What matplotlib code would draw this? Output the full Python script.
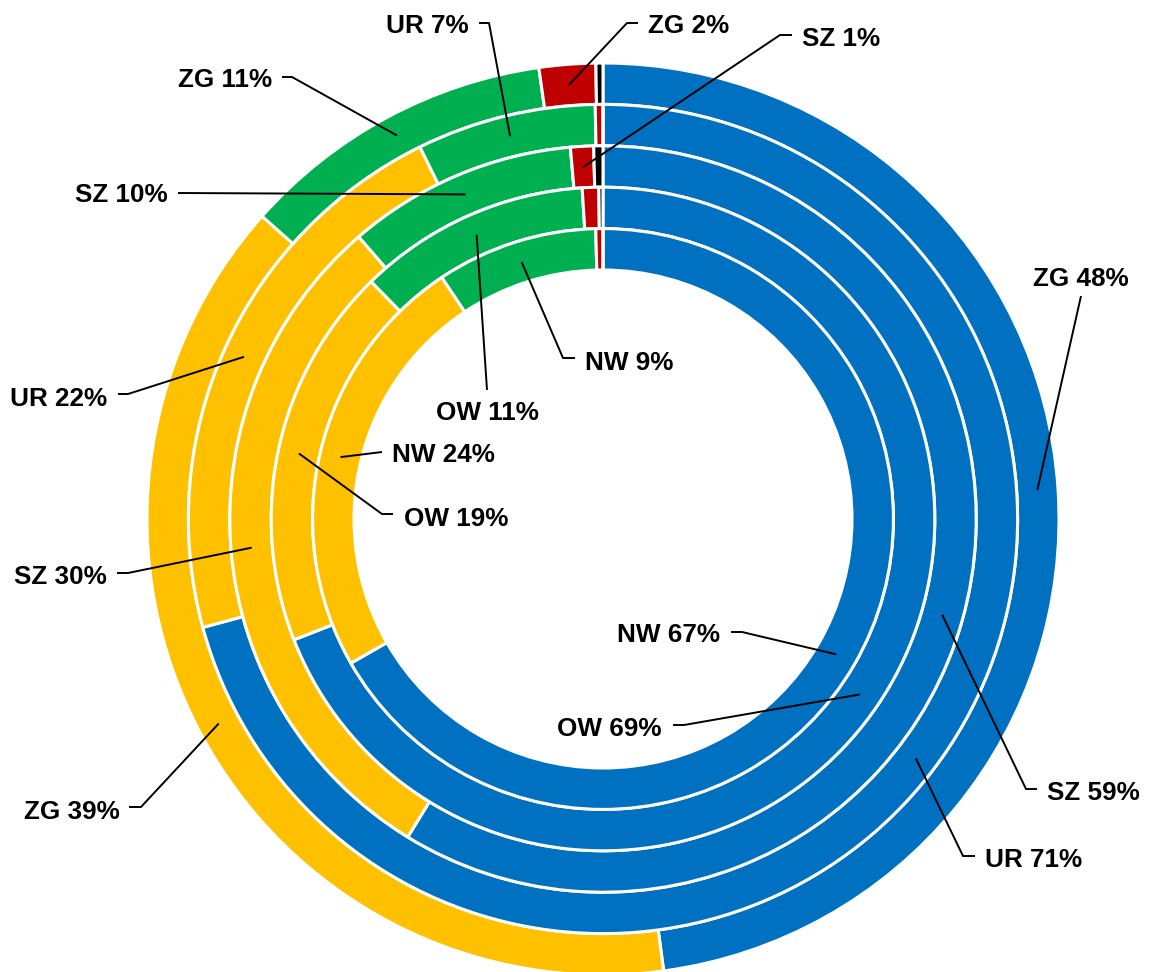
import matplotlib
matplotlib.use("Agg")
import matplotlib.pyplot as plt
import numpy as np

# ---- data (outer ring -> inner ring) ----
rings = ["ZG", "UR", "SZ", "OW", "NW"]
blue = [47.9, 71, 59, 69, 67]
yellow = [38.7, 22, 30, 18.6, 24]
green = [11.2, 7, 10, 11.3, 9]
red = [2, 0.3, 1, 0.8, 0.4]
black = [0.25, 0, 0.4, 0.2, 0]
series = [blue, yellow, green, red, black]
colors = ["#0070C0", "#FFC000", "#00B050", "#C00000", "#000000"]

# ---- layout (pixel coords, y down) ----
W, H = 1153, 972
CX, CY = 603, 519
R_OUT, R_IN = 456, 249
WIDTH = (R_OUT - R_IN) / 5

# (ring, segment, text x, text y-center, ha, line start, elbow)
labels = [
    (0, 0, 1081, 277, "center", (1081, 296), None),
    (1, 0, 985, 857, "left", (975, 856), (963, 856)),
    (2, 0, 1047, 790, "left", (1037, 789), (1026, 789)),
    (3, 0, 662, 726, "right", (673, 725), (684, 725)),
    (4, 0, 720, 633, "right", (731, 632), (742, 632)),
    (0, 1, 120, 809, "right", (129, 807), (141, 807)),
    (1, 1, 107, 396, "right", (118, 394), (128, 394)),
    (2, 1, 107, 575, "right", (117, 573), (128, 573)),
    (3, 1, 404, 517, "left", (393, 514), (382, 514)),
    (4, 1, 392, 452, "left", (382, 452), None),
    (0, 2, 272, 78, "right", (282, 77), (292, 77)),
    (1, 2, 469, 24, "right", (479, 23), (489, 23)),
    (2, 2, 168, 193, "right", (178, 193), None),
    (3, 2, 487, 411, "center", (487, 390), None),
    (4, 2, 585, 360, "left", (575, 358), (563, 358)),
    (0, 3, 648, 24, "left", (638, 23), (627, 23)),
    (2, 3, 802, 37, "left", (792, 35), (780, 35)),
]

fig = plt.figure(figsize=(W / 100, H / 100), dpi=100)
ax = fig.add_axes([0, 0, 1, 1])
cx, cy = CX, H - CY

all_wedges = []
for i in range(len(rings)):
    vals = [s[i] for s in series]
    r = R_OUT - i * WIDTH
    w, _ = ax.pie(vals, radius=r, center=(cx, cy), startangle=90,
                  counterclock=False, colors=colors,
                  wedgeprops=dict(width=WIDTH, edgecolor="white", linewidth=2.2))
    all_wedges.append(w)

for ri, si, tx, ty, ha, start, elbow in labels:
    wdg = all_wedges[ri][si]
    th = np.deg2rad((wdg.theta1 + wdg.theta2) / 2)
    rm = R_OUT - ri * WIDTH - WIDTH / 2
    axp = cx + rm * np.cos(th)
    ayp = cy + rm * np.sin(th)
    pts = [start] + ([elbow] if elbow else [])
    xs = [p[0] for p in pts] + [axp]
    ys = [H - p[1] for p in pts] + [ayp]
    ax.plot(xs, ys, color="black", lw=1.4, zorder=5, solid_capstyle="butt")
    val = series[si][ri]
    ax.text(tx, H - (ty + 9.5), f"{rings[ri]} {round(val)}%", ha=ha,
            va="baseline", fontsize=18.8, fontweight="bold",
            family=["Liberation Sans", "DejaVu Sans"], zorder=6)

ax.set_xlim(0, W)
ax.set_ylim(0, H)
ax.set_aspect("auto")
ax.axis("off")
fig.savefig("out.png", dpi=100)
